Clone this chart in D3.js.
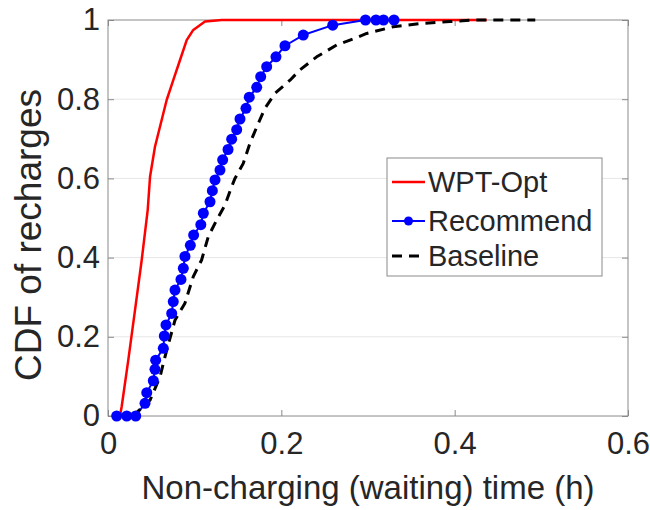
<!DOCTYPE html>
<html>
<head>
<meta charset="utf-8">
<script src="https://cdnjs.cloudflare.com/ajax/libs/d3/7.8.5/d3.min.js"></script>
<style>
    body { margin: 0; background: #fff; }
    #chart-area { width: 650px; height: 510px; }
    text { font-family: "Liberation Sans", Arial, sans-serif; fill: #262626; }
</style>
</head>
<body>
<div id="chart-area"></div>
<script>
// values (x = waiting time in hours, y = CDF)
let wptTime = [0.0138, 0.0158, 0.0234, 0.0312, 0.0389, 0.0458, 0.0485, 0.0542, 0.0638, 0.0677,
    0.0753, 0.0831, 0.0908, 0.0984, 0.1119, 0.1312, 0.437];
let wptCdf = [0, 0.024, 0.141, 0.268, 0.394, 0.520, 0.604, 0.680, 0.764, 0.798,
    0.848, 0.899, 0.949, 0.975, 0.996, 1, 1];

let recTime = [0.0100, 0.0216, 0.0320, 0.0427, 0.0447, 0.0523, 0.0542, 0.0550, 0.0638, 0.0650,
    0.0669, 0.0735, 0.0753, 0.0773, 0.0842, 0.0869, 0.0888, 0.0950, 0.0988, 0.1071,
    0.1100, 0.1177, 0.1204, 0.1235, 0.1292, 0.1323, 0.1385, 0.1427, 0.1485, 0.1523,
    0.1592, 0.1630, 0.1716, 0.1762, 0.1831, 0.1938, 0.2042, 0.2253, 0.2593, 0.2971,
    0.3092, 0.3179, 0.3300];
let recCdf = [0, 0, 0, 0.032, 0.059, 0.089, 0.118, 0.141, 0.171, 0.202,
    0.230, 0.259, 0.289, 0.318, 0.345, 0.373, 0.403, 0.431, 0.457, 0.483,
    0.512, 0.541, 0.569, 0.596, 0.621, 0.647, 0.673, 0.699, 0.723, 0.750,
    0.777, 0.805, 0.830, 0.857, 0.882, 0.907, 0.935, 0.962, 0.987, 1,
    1, 1, 1];

let baseTime = [0.0288, 0.0485, 0.0600, 0.0658, 0.0715, 0.0773, 0.0888, 0.0984, 0.1080, 0.1157,
    0.1254, 0.1350, 0.1427, 0.1465, 0.1561, 0.1638, 0.1734, 0.1811, 0.1927, 0.2100,
    0.2215, 0.2408, 0.2639, 0.2850, 0.2985, 0.3292, 0.3600, 0.3946, 0.4210, 0.4930];
let baseCdf = [0, 0.040, 0.099, 0.150, 0.196, 0.242, 0.285, 0.352, 0.394, 0.453,
    0.495, 0.533, 0.579, 0.600, 0.638, 0.689, 0.739, 0.777, 0.815, 0.848,
    0.874, 0.907, 0.937, 0.954, 0.966, 0.983, 0.991, 0.996, 1, 1];

let seriesNames = ["WPT-Opt", "Recommend", "Baseline"];
let xTicks = [0, 0.2, 0.4, 0.6];
let yTicks = [0, 0.2, 0.4, 0.6, 0.8, 1];

class CdfVis {
    constructor(parentElement) {
        this.parentElement = parentElement;
        this.initVis();
    }

    initVis() {
        let vis = this;

        vis.margin = {top: 20, right: 22, bottom: 94, left: 108};
        vis.width = 650 - vis.margin.left - vis.margin.right;
        vis.height = 510 - vis.margin.top - vis.margin.bottom;

        vis.svg = d3.select("#" + vis.parentElement).append("svg")
            .attr("width", 650)
            .attr("height", 510);

        vis.g = vis.svg.append("g")
            .attr("transform", `translate(${vis.margin.left}, ${vis.margin.top})`);

        vis.x = d3.scaleLinear().domain([0, 0.6]).range([0, vis.width]);
        vis.y = d3.scaleLinear().domain([0, 1]).range([vis.height, 0]);

        vis.series = [
            {name: seriesNames[0], values: d3.zip(wptTime, wptCdf), color: "#ff0000", width: 2.5, dash: null, marker: false},
            {name: seriesNames[1], values: d3.zip(recTime, recCdf), color: "#0000ff", width: 2, dash: null, marker: true},
            {name: seriesNames[2], values: d3.zip(baseTime, baseCdf), color: "#000000", width: 3, dash: "10,7", marker: false}
        ];

        vis.updateVis();
    }

    updateVis() {
        let vis = this;
        let fmt = d => d === 0 || d === 1 ? d3.format("d")(d) : d3.format(".1f")(d);

        // horizontal grid only
        vis.g.append("g")
            .selectAll("line")
            .data(yTicks.filter(d => d > 0 && d < 1))
            .join("line")
            .attr("x1", 0).attr("x2", vis.width)
            .attr("y1", d => vis.y(d)).attr("y2", d => vis.y(d))
            .attr("stroke", "#e6e6e6")
            .attr("stroke-width", 1);

        // axes with inward ticks
        let xAxis = d3.axisBottom(vis.x).tickValues(xTicks).tickSize(-6).tickPadding(16).tickFormat(fmt);
        let yAxis = d3.axisLeft(vis.y).tickValues(yTicks).tickSize(-6).tickPadding(8).tickFormat(fmt);

        vis.g.append("g")
            .attr("transform", `translate(0, ${vis.height})`)
            .call(xAxis)
            .call(g => g.select(".domain").remove());
        vis.g.append("g")
            .call(yAxis)
            .call(g => g.select(".domain").remove());
        vis.g.append("g")
            .call(d3.axisTop(vis.x).tickValues(xTicks).tickSize(-6).tickFormat(""))
            .call(g => g.select(".domain").remove());
        vis.g.append("g")
            .attr("transform", `translate(${vis.width}, 0)`)
            .call(d3.axisRight(vis.y).tickValues(yTicks).tickSize(-6).tickFormat(""))
            .call(g => g.select(".domain").remove());

        vis.g.selectAll(".tick line").attr("stroke", "#8a8a8a");
        vis.g.selectAll(".tick text")
            .attr("font-size", "31px")
            .attr("font-family", "Liberation Sans, Arial, sans-serif")
            .attr("fill", "#262626");

        vis.g.append("rect")
            .attr("width", vis.width)
            .attr("height", vis.height)
            .attr("fill", "none")
            .attr("stroke", "#8a8a8a")
            .attr("stroke-width", 1);

        // lines
        let line = d3.line()
            .x(d => vis.x(d[0]))
            .y(d => vis.y(d[1]));

        vis.g.selectAll(".series")
            .data(vis.series)
            .join("path")
            .attr("class", "series")
            .attr("d", d => line(d.values))
            .attr("fill", "none")
            .attr("stroke", d => d.color)
            .attr("stroke-width", d => d.width)
            .attr("stroke-dasharray", d => d.dash)
            .attr("stroke-linejoin", "round");

        vis.g.selectAll(".marker")
            .data(vis.series[1].values)
            .join("circle")
            .attr("class", "marker")
            .attr("cx", d => vis.x(d[0]))
            .attr("cy", d => vis.y(d[1]))
            .attr("r", 5.5)
            .attr("fill", "#0000ff");

        // axis labels
        vis.svg.append("text")
            .attr("x", vis.margin.left + vis.width / 2)
            .attr("y", 499)
            .attr("text-anchor", "middle")
            .attr("font-size", "33px")
            .text("Non-charging (waiting) time (h)");

        vis.svg.append("text")
            .attr("transform", `translate(41, ${vis.margin.top + vis.height / 2 + 17}) rotate(-90)`)
            .attr("text-anchor", "middle")
            .attr("font-size", "37px")
            .text("CDF of recharges");

        // legend
        let legend = vis.svg.append("g").attr("transform", "translate(387, 158)");
        legend.append("rect")
            .attr("width", 215)
            .attr("height", 118)
            .attr("fill", "#fff")
            .attr("stroke", "#8a8a8a")
            .attr("stroke-width", 1);

        let rows = legend.selectAll(".legend-row")
            .data(vis.series)
            .join("g")
            .attr("class", "legend-row")
            .attr("transform", (d, i) => `translate(0, ${[24, 63, 98][i]})`);

        rows.append("line")
            .attr("x1", 5).attr("x2", 38)
            .attr("y1", 0).attr("y2", 0)
            .attr("stroke", d => d.color)
            .attr("stroke-width", d => d.width)
            .attr("stroke-dasharray", d => d.dash);

        rows.filter(d => d.marker)
            .append("circle")
            .attr("cx", 21.5)
            .attr("r", 4.5)
            .attr("fill", "#0000ff");

        rows.append("text")
            .attr("x", 41)
            .attr("dy", "0.35em")
            .attr("font-size", "29px")
            .attr("fill", "#000")
            .text(d => d.name);
    }
}

new CdfVis("chart-area");
</script>
</body>
</html>
